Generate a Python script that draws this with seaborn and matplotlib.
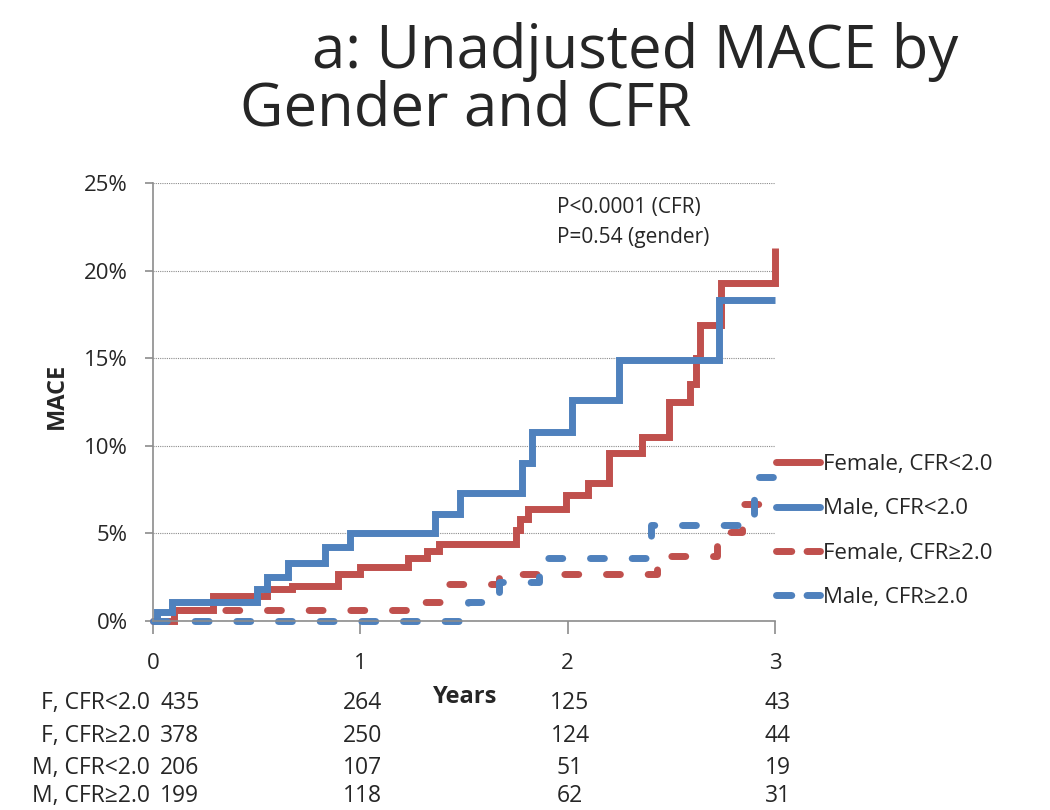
import numpy as np
import pandas as pd
import seaborn as sns
import matplotlib.pyplot as plt
from matplotlib.lines import Line2D
from matplotlib.ticker import FuncFormatter

# Kaplan-Meier style step data (years, cumulative MACE %)
female_lo_t = [0, 0.1, 0.29, 0.55, 0.67, 0.89, 1.0, 1.23, 1.32, 1.38, 1.75, 1.77, 1.81, 1.99, 2.1, 2.2, 2.36, 2.49, 2.59, 2.62, 2.64, 2.74, 3.0]
female_lo_v = [0, 0.6, 1.4, 1.8, 2.0, 2.7, 3.1, 3.6, 4.0, 4.4, 5.2, 5.8, 6.4, 7.2, 7.9, 9.6, 10.5, 12.5, 13.5, 15.0, 16.9, 19.3, 21.3]

male_lo_t = [0, 0.02, 0.09, 0.5, 0.55, 0.65, 0.83, 0.95, 1.36, 1.48, 1.78, 1.83, 2.02, 2.25, 2.73, 3.0]
male_lo_v = [0, 0.5, 1.1, 1.8, 2.5, 3.3, 4.2, 5.0, 6.1, 7.3, 9.0, 10.8, 12.6, 14.9, 18.3, 18.3]

female_hi_t = [0, 0.07, 1.28, 1.43, 1.67, 2.43, 2.72, 2.84, 3.0]
female_hi_v = [0, 0.6, 1.1, 2.1, 2.7, 3.7, 5.1, 6.7, 6.7]

male_hi_t = [0, 1.52, 1.67, 1.86, 2.4, 2.9, 3.0]
male_hi_v = [0, 1.1, 2.2, 3.6, 5.5, 8.2, 8.2]

series_names = ["Female, CFR<2.0", "Male, CFR<2.0", "Female, CFR\u22652.0", "Male, CFR\u22652.0"]

# numbers at risk
risk_labels = ["F, CFR<2.0", "F, CFR\u22652.0", "M, CFR<2.0", "M, CFR\u22652.0"]
risk_years = [0, 1, 2, 3]
risk_counts = [[435, 264, 125, 43],
               [378, 250, 124, 44],
               [206, 107, 51, 19],
               [199, 118, 62, 31]]

red = '#C0504D'
blue = '#4F81BD'

# long table for seaborn
df = pd.concat([
    pd.DataFrame({'years': female_lo_t, 'mace': female_lo_v, 'group': series_names[0]}),
    pd.DataFrame({'years': male_lo_t, 'mace': male_lo_v, 'group': series_names[1]}),
    pd.DataFrame({'years': female_hi_t, 'mace': female_hi_v, 'group': series_names[2]}),
    pd.DataFrame({'years': male_hi_t, 'mace': male_hi_v, 'group': series_names[3]}),
])

sns.set_style("white")
plt.rcParams['font.family'] = ['Open Sans', 'DejaVu Sans']

fig = plt.figure(figsize=(10.5, 8.1), dpi=100)
ax = fig.add_axes([153 / 1050, 189 / 810, 622 / 1050, 438 / 810])

colors = [red, blue, red, blue]
styles = ['-', '-', (0, (2.0, 4.0)), (0, (2.0, 4.0))]
lw = 5
for name, c, ls in zip(series_names, colors, styles):
    sns.lineplot(data=df[df['group'] == name], x='years', y='mace', ax=ax,
                 color=c, linestyle=ls, linewidth=lw, drawstyle='steps-post',
                 estimator=None, sort=True, dash_capstyle='round',
                 solid_capstyle='butt', solid_joinstyle='miter', clip_on=False)

ax.set_xlim(0, 3)
ax.set_ylim(0, 25)
ax.set_xticks([0, 1, 2, 3])
ax.set_yticks([0, 5, 10, 15, 20, 25])
ax.yaxis.set_major_formatter(FuncFormatter(lambda v, p: f'{v:.0f}%'))
ax.grid(axis='y', color='#8c8c8c', linestyle=(0, (1, 1)), linewidth=0.8)
ax.grid(axis='x', visible=False)
for s in ['top', 'right']:
    ax.spines[s].set_visible(False)
for s in ['left', 'bottom']:
    ax.spines[s].set_color('#8c8c8c')
    ax.spines[s].set_linewidth(1.2)
ax.tick_params(axis='y', direction='out', length=6, width=1.2, color='#8c8c8c',
               labelsize=16, pad=12, left=True)
ax.tick_params(axis='x', direction='out', length=9, width=1.2, color='#8c8c8c',
               labelsize=16, pad=14, bottom=True)
ax.set_xlabel('')
ax.set_ylabel('')

# axis titles
fig.text(465 / 1050, 1 - 697 / 810, 'Years', fontsize=17, fontweight='bold',
         ha='center', va='center')
fig.text(57 / 1050, 1 - 396 / 810, 'MACE', fontsize=17, fontweight='bold',
         rotation=90, ha='center', va='center')

# title
fig.text(312 / 1050, 1 - 52 / 810, 'a: Unadjusted MACE by', fontsize=43,
         ha='left', va='center')
fig.text(240 / 1050, 1 - 110 / 810, 'Gender and CFR', fontsize=43,
         ha='left', va='center')

# p values
ax.text(0.65, 0.91, 'P<0.0001 (CFR)\nP=0.54 (gender)', transform=ax.transAxes,
        fontsize=15, ha='left', va='center', linespacing=1.55)

# legend
leg_styles = ['-', '-', (0, (2.2, 2.2)), (0, (2.2, 2.2))]
handles = [Line2D([0], [0], color=c, linestyle=ls, linewidth=lw, dash_capstyle='round')
           for c, ls in zip(colors, leg_styles)]
fig.legend(handles, series_names, loc='center left',
           bbox_to_anchor=(776 / 1050, 1 - 531 / 810), frameon=False,
           fontsize=16, handlelength=2.0, handletextpad=0.1, labelspacing=1.05,
           borderpad=0, borderaxespad=0)

# numbers at risk table
row_y = [703, 736, 768, 796]
for lab, counts, yy in zip(risk_labels, risk_counts, row_y):
    fy = 1 - yy / 810
    fig.text(150 / 1050, fy, lab, fontsize=16.5, ha='right', va='center')
    for yr, n in zip(risk_years, counts):
        xpix = 153 + yr * 207.5
        if yr == 0:
            fig.text((xpix + 7) / 1050, fy, str(n), fontsize=16.5, ha='left', va='center')
        else:
            fig.text((xpix + 2) / 1050, fy, str(n), fontsize=16.5, ha='center', va='center')

fig.savefig('out.png', dpi=100)
